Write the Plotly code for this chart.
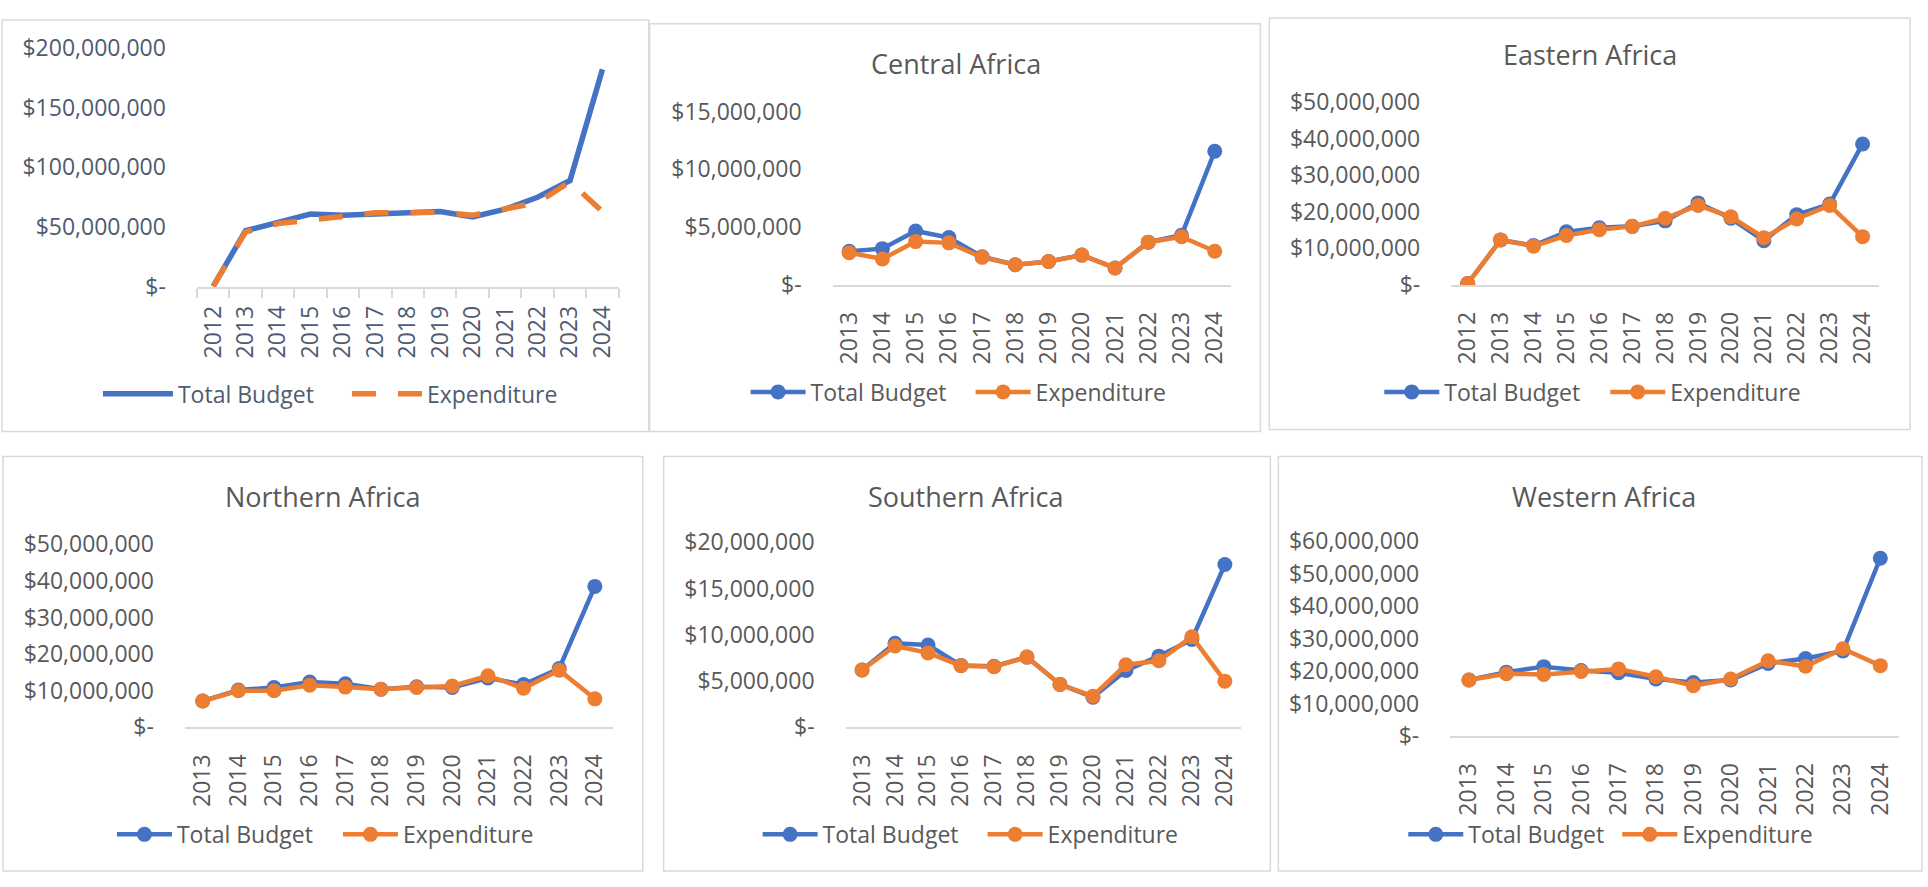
import plotly.graph_objects as go

W, H = 1928, 887

# ---------------- data ----------------
years_2012 = ["2012", "2013", "2014", "2015", "2016", "2017", "2018", "2019", "2020", "2021", "2022", "2023", "2024"]
years_2013 = ["2013", "2014", "2015", "2016", "2017", "2018", "2019", "2020", "2021", "2022", "2023", "2024"]

overall_budget = [0.4e6, 47e6, 54e6, 61e6, 60e6, 61e6, 61e6, 63e6, 58.5e6, 65e6, 75e6, 89e6, 182e6]
overall_expenditure = [0.4e6, 46e6, 53e6, 56e6, 58.5e6, 62e6, 62e6, 62.5e6, 60e6, 65.5e6, 70.5e6, 88e6, 63e6]

central_budget = [2.92e6, 3.14e6, 4.67e6, 4.1e6, 2.44e6, 1.75e6, 2.03e6, 2.58e6, 1.47e6, 3.7e6, 4.3e6, 11.56e6]
central_expenditure = [2.78e6, 2.25e6, 3.75e6, 3.64e6, 2.39e6, 1.75e6, 2.03e6, 2.58e6, 1.47e6, 3.7e6, 4.17e6, 2.92e6]

eastern_budget = [0.4e6, 12.3e6, 10.75e6, 14.5e6, 15.6e6, 16.0e6, 17.5e6, 22.4e6, 18.2e6, 12.1e6, 19.2e6, 22.1e6, 38.5e6]
eastern_expenditure = [0.4e6, 12.3e6, 10.6e6, 13.5e6, 15.1e6, 16.0e6, 18.2e6, 21.7e6, 18.6e6, 12.9e6, 18.0e6, 21.7e6, 13.2e6]

northern_budget = [7.2e6, 10.2e6, 10.9e6, 12.4e6, 11.9e6, 10.4e6, 11.1e6, 10.9e6, 13.5e6, 11.7e6, 16.1e6, 38.5e6]
northern_expenditure = [7.2e6, 10.0e6, 10.0e6, 11.5e6, 11.0e6, 10.4e6, 10.9e6, 11.3e6, 14.1e6, 10.7e6, 15.6e6, 7.8e6]

southern_budget = [6.2e6, 9.1e6, 8.9e6, 6.7e6, 6.6e6, 7.6e6, 4.65e6, 3.26e6, 6.15e6, 7.7e6, 9.5e6, 17.6e6]
southern_expenditure = [6.2e6, 8.8e6, 8.05e6, 6.67e6, 6.56e6, 7.6e6, 4.65e6, 3.37e6, 6.77e6, 7.2e6, 9.8e6, 5.0e6]

western_budget = [17.3e6, 19.7e6, 21.4e6, 20.2e6, 19.5e6, 17.6e6, 16.5e6, 17.3e6, 22.4e6, 23.9e6, 26.2e6, 54.8e6]
western_expenditure = [17.3e6, 19.2e6, 19.0e6, 19.9e6, 20.7e6, 18.3e6, 15.5e6, 17.6e6, 23.2e6, 21.5e6, 26.9e6, 21.7e6]

titles = ["", "Central Africa", "Eastern Africa", "Northern Africa", "Southern Africa", "Western Africa"]
series_names = ["Total Budget", "Expenditure"]

ticks_overall = [0, 50e6, 100e6, 150e6, 200e6]
ticks_central = [0, 5e6, 10e6, 15e6]
ticks_eastern = [0, 10e6, 20e6, 30e6, 40e6, 50e6]
ticks_northern = [0, 10e6, 20e6, 30e6, 40e6, 50e6]
ticks_southern = [0, 5e6, 10e6, 15e6, 20e6]
ticks_western = [0, 10e6, 20e6, 30e6, 40e6, 50e6, 60e6]

# ---------------- styling / layout (pixels) ----------------
BLUE = "#4472C4"
ORANGE = "#ED7D31"
TXT = "#595959"
SLATE = "#4F5B70"
AXIS = "#D9D9D9"
FONT = "Open Sans"
FS = 23

panels = [
    dict(x=years_2012, b=overall_budget, e=overall_expenditure, ticks=ticks_overall, txt=SLATE,
         box=(1, 3, 648, 430), xdom=(196, 618), ytop=32, ybot=280, title=None,
         leg=(180, 391), step=249, dashed=True),
    dict(x=years_2013, b=central_budget, e=central_expenditure, ticks=ticks_central, txt=TXT,
         box=(649, 7, 1260, 430), xdom=(832, 1231), ytop=98, ybot=278, title=(955, 48),
         leg=(813, 389), step=225, dashed=False),
    dict(x=years_2012, b=eastern_budget, e=eastern_expenditure, ticks=ticks_eastern, txt=TXT,
         box=(1269, 1, 1910, 428), xdom=(1451, 1879), ytop=88, ybot=278, title=(1590, 39),
         leg=(1447, 389), step=226, dashed=False),
    dict(x=years_2013, b=northern_budget, e=northern_expenditure, ticks=ticks_northern, txt=TXT,
         box=(2, 456, 642, 886), xdom=(184, 612), ytop=547, ybot=737, title=(322, 497),
         leg=(179, 848), step=226, dashed=False),
    dict(x=years_2013, b=southern_budget, e=southern_expenditure, ticks=ticks_southern, txt=TXT,
         box=(663, 456, 1270, 886), xdom=(845, 1241), ytop=545, ybot=737, title=(966, 497),
         leg=(825, 848), step=225, dashed=False),
    dict(x=years_2013, b=western_budget, e=western_expenditure, ticks=ticks_western, txt=TXT,
         box=(1278, 456, 1922, 886), xdom=(1450, 1899), ytop=544, ybot=746, title=(1604, 497),
         leg=(1471, 848), step=214, dashed=False),
]


def money(v):
    return "$-" if v == 0 else "${:,.0f}".format(v)


fig = go.Figure()
layout = dict(width=W, height=H, autosize=False, margin=dict(l=0, r=0, t=0, b=0),
              paper_bgcolor="white", plot_bgcolor="white", showlegend=True,
              font=dict(family=FONT, color=TXT, size=FS), shapes=[], annotations=[])

for i, p in enumerate(panels):
    k = "" if i == 0 else str(i + 1)
    xa, ya = "x" + k, "y" + k
    leg = "legend" + k
    if p["dashed"]:
        bl = dict(color=BLUE, width=5.5)
        el = dict(color=ORANGE, width=5.5, dash="24px,22px")
        mode = "lines"
        iw = 70
    else:
        bl = dict(color=BLUE, width=4.5)
        el = dict(color=ORANGE, width=4.5)
        mode = "lines+markers"
        iw = 55
    fig.add_trace(go.Scatter(x=p["x"], y=p["b"], name=series_names[0], mode=mode, line=bl,
                             marker=dict(size=15, color=BLUE), xaxis=xa, yaxis=ya, legend=leg))
    fig.add_trace(go.Scatter(x=p["x"], y=p["e"], name=series_names[1], mode=mode, line=el,
                             marker=dict(size=15, color=ORANGE), xaxis=xa, yaxis=ya, legend=leg))

    n = len(p["x"])
    xkw = dict(domain=[p["xdom"][0] / W, p["xdom"][1] / W], anchor=ya, type="category",
               range=[-0.5, n - 0.5], showgrid=False, zeroline=False, showline=True,
               linecolor=AXIS, linewidth=1.5, tickangle=-90, tickfont=dict(size=FS, color=p["txt"]),
               fixedrange=True)
    if p["dashed"]:
        xkw.update(ticks="outside", tickson="boundaries", ticklen=9, tickcolor=AXIS, tickwidth=1.5,
                   ticklabelstandoff=8)
    else:
        xkw.update(ticks="", ticklabelstandoff=16)
    ykw = dict(domain=[1 - p["ybot"] / H, 1 - p["ytop"] / H], anchor=xa, range=[0, p["ticks"][-1]],
               tickvals=p["ticks"], ticktext=[money(v) for v in p["ticks"]], showgrid=False,
               zeroline=False, showline=False, ticks="", ticklabelstandoff=30,
               tickfont=dict(size=FS, color=p["txt"]), fixedrange=True)
    layout["xaxis" + k] = xkw
    layout["yaxis" + k] = ykw

    x0, y0, x1, y1 = p["box"]
    layout["shapes"].append(dict(type="rect", xref="paper", yref="paper", x0=x0 / W, x1=x1 / W,
                                 y0=1 - y1 / H, y1=1 - y0 / H, line=dict(color=AXIS, width=1.5),
                                 fillcolor="rgba(0,0,0,0)", layer="below"))
    if p["title"]:
        tx, ty = p["title"]
        layout["annotations"].append(dict(text=titles[i], xref="paper", yref="paper", x=tx / W, y=1 - ty / H,
                                          xanchor="center", yanchor="middle", showarrow=False,
                                          font=dict(size=27, color=TXT, family=FONT)))
    text_start, ly = p["leg"]
    layout[leg] = dict(orientation="h", x=(text_start - iw - 13) / W, y=1 - ly / H, xanchor="left",
                       yanchor="middle", bgcolor="rgba(0,0,0,0)", font=dict(size=FS, color=p["txt"]),
                       itemwidth=iw, tracegroupgap=0, entrywidth=p["step"] - iw - 15, borderwidth=0)

fig.update_layout(**layout)
fig.write_html("out.html", config={"displayModeBar": False},
               post_script="document.body.style.margin='0';document.body.style.overflow='hidden';")
